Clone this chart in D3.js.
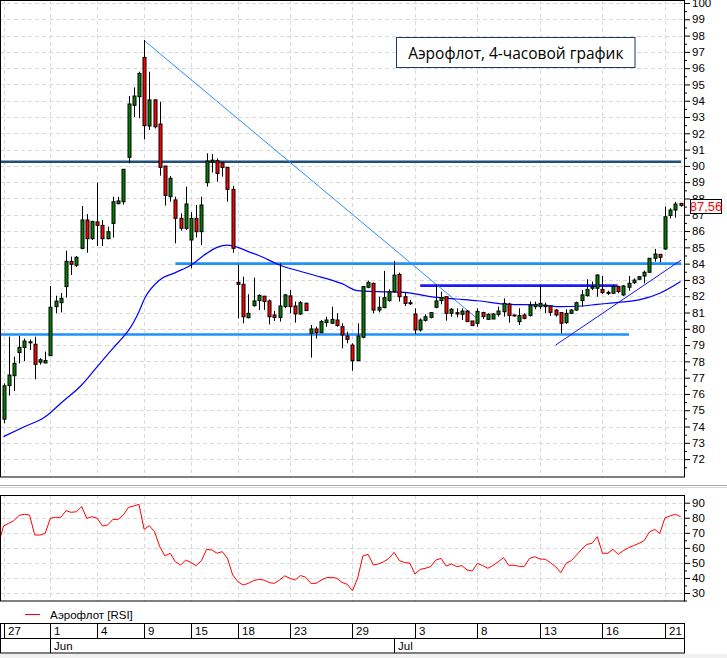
<!DOCTYPE html>
<html>
<head>
<meta charset="utf-8">
<script src="https://cdn.jsdelivr.net/npm/d3@7"></script>
<style>
  body { margin: 0; background: #fff; }
  svg { display: block; font-family: "Liberation Sans", Arial, sans-serif; }
  .grid line { stroke: #d9d9d9; stroke-dasharray: 4 3; }
  .axis text { font-size: 11.5px; fill: #000; }
  .axis line { stroke: #000; }
</style>
</head>
<body>
<svg id="chart" width="727" height="658"></svg>
<script>
// 4h candles, index 0 = first candle of May 27
const opens = [74.45,76.51,77.12,78.54,78.86,79.18,79.05,77.95,77.9,78.35,81.36,81.6,82.59,84.14,83.9,84.94,86.68,85.53,86.56,86.35,
  85.53,86.47,87.68,87.8,90.53,93.72,94.25,96.66,92.45,94.05,92.57,89.99,88.11,87.91,86.78,86.17,85.45,86.78,85.96,88.97,
  90.25,90.32,90.2,89.91,88.56,82.85,82.73,80.68,81.42,81.73,82.0,81.71,80.85,80.7,81.36,82.02,81.4,80.91,81.57,79.72,
  79.99,79.76,80.38,80.34,80.54,80.13,79.56,79.0,78.04,79.48,82.55,82.79,81.15,81.3,81.73,82.28,83.34,81.97,81.6,80.91,
  79.93,80.52,80.7,81.32,81.73,81.97,80.95,80.99,80.89,81.09,80.48,80.34,81.0,80.58,80.6,80.89,81.05,81.52,80.85,80.44,
  80.85,80.81,81.36,81.36,81.36,81.4,81.15,80.99,80.38,80.95,81.15,81.73,82.04,82.49,82.49,82.42,82.24,82.18,82.59,82.08,
  82.55,82.83,83.04,83.24,83.47,84.33,84.57,84.9,86.96,87.29,87.7];
const highs = [76.65,79.52,78.29,79.56,79.4,79.35,79.52,78.2,78.6,82.63,82.03,82.2,84.8,84.43,84.47,87.54,87.04,86.64,88.97,86.68,
  86.27,88.11,88.1,89.8,94.29,94.82,95.78,97.73,95.78,94.1,93.94,90.0,89.38,88.11,87.09,88.73,87.16,87.6,88.11,90.77,
  90.73,90.46,90.2,89.91,88.77,83.92,83.2,82.12,83.14,82.12,82.02,81.8,81.1,84.02,82.14,82.38,81.67,81.71,81.6,80.23,
  80.13,80.54,80.74,81.36,80.95,80.34,79.82,79.11,80.34,82.59,82.96,82.83,81.97,83.55,82.42,84.16,83.45,82.22,81.77,81.26,
  80.64,80.89,81.01,82.73,82.28,81.97,81.26,81.26,81.26,81.15,80.48,81.26,81.05,80.95,80.95,81.36,81.87,81.6,80.87,81.26,
  80.95,81.67,81.67,82.69,81.6,81.46,81.2,80.99,81.2,81.2,81.67,82.38,83.04,82.9,83.34,83.24,82.34,82.69,82.65,82.69,
  83.24,83.1,83.24,83.57,84.33,84.9,84.57,87.5,87.4,87.8,87.7];
const lows = [74.2,75.9,76.18,77.88,78.02,78.7,76.9,77.8,77.9,78.35,80.95,81.0,81.91,83.3,83.8,84.88,84.67,85.45,85.08,85.08,
  85.5,85.6,87.65,87.62,90.16,93.0,92.93,91.63,92.2,92.3,89.4,87.56,87.8,85.25,86.02,86.06,83.71,85.61,85.14,88.73,
  89.6,89.03,89.34,87.8,84.67,80.64,80.34,80.64,81.36,81.15,81.16,80.27,80.48,80.44,81.26,80.95,80.38,80.85,81.1,78.23,
  79.4,79.76,80.13,80.3,80.13,78.8,79.11,77.43,78.04,79.42,82.49,80.95,81.01,81.26,81.67,82.22,81.67,81.4,81.46,79.68,
  79.83,80.44,80.64,81.26,81.5,80.5,80.74,80.7,80.54,80.44,80.17,80.13,80.6,80.54,80.6,80.75,80.75,80.38,80.75,80.23,
  80.58,80.75,81.2,81.2,80.95,80.79,80.75,79.72,80.3,80.91,81.09,81.36,81.97,82.38,81.97,82.14,82.08,82.14,82.18,82.02,
  82.34,82.75,83.02,82.79,83.47,84.12,84.08,84.84,86.78,86.82,87.5];
const closes = [76.5,77.16,77.88,78.86,79.25,79.2,77.82,78.1,78.05,81.32,81.7,81.87,84.14,83.96,84.39,86.68,85.53,86.58,86.35,85.53,
  85.96,87.8,87.85,89.79,93.8,94.29,95.68,92.47,94.05,92.4,89.91,88.19,89.24,86.78,86.17,87.66,86.78,85.96,87.6,90.3,
  90.35,89.54,89.9,88.56,84.94,82.73,80.74,80.95,81.71,82.04,81.67,80.74,80.7,81.4,82.08,81.36,80.91,81.6,81.12,79.99,
  79.76,80.44,80.54,80.58,80.2,79.62,79.35,78.04,79.56,82.59,82.85,81.15,81.32,81.91,82.28,83.3,81.97,81.56,81.56,79.93,
  80.54,80.74,80.99,81.71,81.91,80.95,81.2,80.91,81.09,80.44,80.2,81.07,80.75,80.89,80.91,81.09,81.56,80.81,80.81,80.81,
  80.64,81.46,81.5,81.56,81.46,81.01,80.85,80.34,80.95,81.15,81.6,82.08,82.42,82.59,83.3,82.22,82.18,82.59,82.28,82.63,
  82.79,82.99,83.2,83.47,84.33,84.59,84.39,86.88,87.29,87.66,87.56];

// moving average, read as [candle index, price]
const maPoints = [[0,73.38],[4,73.99],[8,74.6],[9,74.85],[11,75.43],[15,76.55],[18,77.68],[21,78.8],[23,79.5],[24,79.9],
  [26,81.05],[27,81.8],[30,83.0],[33,83.45],[36,83.92],[39,84.63],[41,85.0],[43,85.14],[45,85.0],[47,84.74],[49,84.5],
  [53,83.92],[59,83.35],[65,82.77],[68,82.34],[72,82.28],[77,82.24],[82,81.97],[87,81.83],[91,81.72],[97,81.5],
  [103,81.46],[107,81.36],[111,81.4],[114,81.5],[118,81.62],[122,81.77],[126,82.18],[130,82.9]];

const rsiBefore = 62;
const rsi = [74.5,76.3,78.1,81.6,82.3,81.8,68.5,68.5,69.6,79.6,80.3,80.3,84.7,83.6,84.0,87.4,79.6,80.7,79.6,74.5,
  75.2,78.9,78.9,81.8,86.9,87.8,88.9,72.3,74.7,70.7,60.8,54.6,56.4,50.8,48.6,51.9,50.2,48.2,51.5,59.0,
  58.6,56.4,57.5,53.0,42.0,37.5,35.3,36.4,38.2,39.1,38.6,36.9,36.4,38.6,41.4,39.8,38.6,41.6,40.5,36.4,
  36.4,38.6,40.2,40.4,39.8,37.0,35.8,31.5,40.0,54.6,55.7,48.6,49.3,50.8,53.0,57.0,51.5,50.2,49.9,42.6,
  45.7,46.4,47.5,51.9,53.0,47.9,49.3,47.5,48.2,45.3,44.6,49.7,48.2,46.4,48.4,50.8,53.5,48.4,48.4,47.7,
  47.7,53.0,54.1,52.6,52.4,50.2,47.5,43.5,49.7,51.5,55.2,59.0,62.3,63.0,67.4,56.4,56.4,59.0,55.7,58.1,
  60.1,61.5,63.0,64.8,70.5,72.3,69.6,80.0,81.2,82.3,80.7];

// support / resistance levels: price, first and last candle index
const levelPrices = [90.25, 84.0, 79.65, 82.65];
const levelFrom = [-0.7, 33, -0.7, 80];
const levelTo = [130.1, 130.1, 120.1, 117.9];

// trend lines: [index, price] start and end
const trendFrom = [[27, 97.7], [106, 79.0]];
const trendTo = [[90.9, 80.64], [130.1, 84.22]];

const dayLabels = ["27","1","4","9","15","18","23","29","3","8","13","16","21"];
const dayIndex = [0,9,18,27,36,45,55,67,79,91,103,115,127];
const monthLabels = ["Jun","Jul"];
const monthIndex = [9,75];

const priceTicks = d3.range(72, 101);
const priceMinorTicks = d3.range(71.5, 100, 1);
const rsiTicks = [30,40,50,60,70,80,90];
const rsiMinorTicks = [25,35,45,55,65,75,85];

const lastPriceLabel = "87,56";
const title = "Аэрофлот, 4-часовой график";
const legendLabel = "Аэрофлот [RSI]";

const svg = d3.select("#chart");
const panelRight = 684;

const x = d3.scaleLinear().domain([0, 127]).range([3.5, 665]);
const yPrice = d3.scaleLinear().domain([71, 100]).range([475.4, 3]);
const yRsi = d3.scaleLinear().domain([30, 90]).range([593, 502.7]);
const px = (i) => Math.round(x(i)) + 0.5;

const defs = svg.append("defs");
defs.append("clipPath").attr("id", "clipMain")
  .append("rect").attr("x", 1).attr("y", 1).attr("width", panelRight - 1).attr("height", 476);
defs.append("clipPath").attr("id", "clipRsi")
  .append("rect").attr("x", 1).attr("y", 496).attr("width", panelRight - 1).attr("height", 105);

svg.append("rect").attr("width", 727).attr("height", 658).attr("fill", "#fff");

// ---------- main panel ----------
const gMainGrid = svg.append("g").attr("class", "grid").attr("clip-path", "url(#clipMain)");
gMainGrid.selectAll("line.h").data(priceTicks).join("line").attr("class", "h")
  .attr("x1", 0).attr("x2", panelRight)
  .attr("y1", (d) => Math.round(yPrice(d)) + 0.5).attr("y2", (d) => Math.round(yPrice(d)) + 0.5);
gMainGrid.selectAll("line.v").data(dayIndex).join("line").attr("class", "v")
  .attr("x1", (d) => px(d)).attr("x2", (d) => px(d))
  .attr("y1", 0).attr("y2", 477);

const gMain = svg.append("g").attr("clip-path", "url(#clipMain)");

const levelColors = ["#1f4e79", "#1e8fff", "#1e8fff", "#1a1aff"];
gMain.selectAll("line.level").data(levelPrices).join("line").attr("class", "level")
  .attr("x1", (d, i) => x(levelFrom[i])).attr("x2", (d, i) => x(levelTo[i]))
  .attr("y1", (d) => yPrice(d)).attr("y2", (d) => yPrice(d))
  .attr("stroke", (d, i) => levelColors[i]).attr("stroke-width", 2.6);

const trendColors = ["#2b8cff", "#1010ff"];
gMain.selectAll("line.trend").data(trendFrom).join("line").attr("class", "trend")
  .attr("x1", (d) => x(d[0])).attr("y1", (d) => yPrice(d[1]))
  .attr("x2", (d, i) => x(trendTo[i][0])).attr("y2", (d, i) => yPrice(trendTo[i][1]))
  .attr("stroke", (d, i) => trendColors[i]).attr("stroke-width", 1);

const maLine = d3.line().x((d) => x(d[0])).y((d) => yPrice(d[1])).curve(d3.curveMonotoneX);
gMain.append("path").datum(maPoints).attr("d", maLine)
  .attr("fill", "none").attr("stroke", "#0000ff").attr("stroke-width", 1.2);

const candles = gMain.selectAll("g.candle").data(opens).join("g").attr("class", "candle");
candles.append("line")
  .attr("x1", (d, i) => px(i)).attr("x2", (d, i) => px(i))
  .attr("y1", (d, i) => yPrice(highs[i])).attr("y2", (d, i) => yPrice(lows[i]))
  .attr("stroke", "#000").attr("stroke-width", 1);
candles.append("rect")
  .attr("x", (d, i) => Math.round(x(i)) - 1)
  .attr("width", 3)
  .attr("y", (d, i) => yPrice(Math.max(opens[i], closes[i])))
  .attr("height", (d, i) => Math.max(1, Math.abs(yPrice(opens[i]) - yPrice(closes[i]))))
  .attr("fill", (d, i) => closes[i] >= opens[i] ? "#008000" : "#ff0000")
  .attr("stroke", "#000").attr("stroke-width", 1);

svg.append("rect").attr("x", 0.5).attr("y", 0.5).attr("width", panelRight).attr("height", 476.5)
  .attr("fill", "none").attr("stroke", "#000");

// title box
const titleG = svg.append("g");
titleG.append("rect").attr("x", 396.5).attr("y", 37.5).attr("width", 238.5).attr("height", 30)
  .attr("fill", "#fff").attr("stroke", "#1f3864").attr("stroke-width", 1);
titleG.append("text").attr("x", 515.8).attr("y", 58.5).attr("text-anchor", "middle")
  .style("font-family", "'Open Sans', 'Noto Sans', sans-serif").style("font-size", "15.5px")
  .attr("fill", "#000").text(title);

// price axis
svg.append("g").attr("class", "axis").attr("transform", `translate(${panelRight},0)`)
  .call(d3.axisRight(yPrice).tickValues(priceMinorTicks).tickSize(3).tickFormat(""))
  .call((g) => g.select(".domain").remove());
svg.append("g").attr("class", "axis").attr("transform", `translate(${panelRight},0)`)
  .call(d3.axisRight(yPrice).tickValues(priceTicks).tickSize(6).tickPadding(2).tickFormat(d3.format("d")))
  .call((g) => g.select(".domain").remove());

// last price label
const lastY = yPrice(closes[closes.length - 1]);
svg.append("rect").attr("x", 690.5).attr("y", Math.round(lastY) - 6.5).attr("width", 31).attr("height", 14)
  .attr("fill", "#fff").attr("stroke", "#000");
svg.append("text").attr("x", 706).attr("y", Math.round(lastY) + 5).attr("text-anchor", "middle")
  .style("font-size", "13px").attr("fill", "#ff0000").text(lastPriceLabel);

// separator between panels
svg.append("line").attr("x1", 0).attr("x2", 727).attr("y1", 485.5).attr("y2", 485.5).attr("stroke", "#a8a8a8");
svg.append("line").attr("x1", 0).attr("x2", 727).attr("y1", 487.5).attr("y2", 487.5).attr("stroke", "#d8d8d8");

// ---------- RSI panel ----------
const gRsiGrid = svg.append("g").attr("class", "grid").attr("clip-path", "url(#clipRsi)");
gRsiGrid.selectAll("line.h").data(rsiTicks).join("line").attr("class", "h")
  .attr("x1", 0).attr("x2", panelRight)
  .attr("y1", (d) => Math.round(yRsi(d)) + 0.5).attr("y2", (d) => Math.round(yRsi(d)) + 0.5);
gRsiGrid.selectAll("line.v").data(dayIndex).join("line").attr("class", "v")
  .attr("x1", (d) => px(d)).attr("x2", (d) => px(d))
  .attr("y1", 495).attr("y2", 601);

const rsiSeries = [[-1, rsiBefore]].concat(rsi.map((v, i) => [i, v]));
svg.append("g").attr("clip-path", "url(#clipRsi)").append("path").datum(rsiSeries)
  .attr("d", d3.line().x((d) => x(d[0])).y((d) => yRsi(d[1])))
  .attr("fill", "none").attr("stroke", "#ff0000").attr("stroke-width", 1);

svg.append("rect").attr("x", 0.5).attr("y", 495.5).attr("width", panelRight).attr("height", 105.5)
  .attr("fill", "none").attr("stroke", "#000");

svg.append("g").attr("class", "axis").attr("transform", `translate(${panelRight},0)`)
  .call(d3.axisRight(yRsi).tickValues(rsiMinorTicks).tickSize(3).tickFormat(""))
  .call((g) => g.select(".domain").remove());
svg.append("g").attr("class", "axis").attr("transform", `translate(${panelRight},0)`)
  .call(d3.axisRight(yRsi).tickValues(rsiTicks).tickSize(6).tickPadding(2).tickFormat(d3.format("d")))
  .call((g) => g.select(".domain").remove());

// legend
svg.append("line").attr("x1", 25).attr("x2", 40).attr("y1", 614.5).attr("y2", 614.5).attr("stroke", "#ff0000");
svg.append("text").attr("x", 50).attr("y", 618.5).style("font-size", "11.5px").attr("fill", "#000").text(legendLabel);

// ---------- date axis ----------
const gDate = svg.append("g");
gDate.append("rect").attr("x", 0.5).attr("y", 623.5).attr("width", panelRight).attr("height", 29.5)
  .attr("fill", "#fff").attr("stroke", "#000");
gDate.append("line").attr("x1", 0).attr("x2", panelRight + 0.5).attr("y1", 638.5).attr("y2", 638.5).attr("stroke", "#000");
gDate.selectAll("line.day").data(dayIndex).join("line").attr("class", "day")
  .attr("x1", (d) => px(d)).attr("x2", (d) => px(d)).attr("y1", 623).attr("y2", 638.5).attr("stroke", "#000");
gDate.selectAll("text.day").data(dayLabels).join("text").attr("class", "day")
  .attr("x", (d, i) => px(dayIndex[i]) + 3.5).attr("y", 635)
  .style("font-size", "11.5px").attr("fill", "#000").text((d) => d);
gDate.selectAll("line.month").data(monthIndex).join("line").attr("class", "month")
  .attr("x1", (d) => px(d)).attr("x2", (d) => px(d)).attr("y1", 638.5).attr("y2", 653).attr("stroke", "#000");
gDate.selectAll("text.month").data(monthLabels).join("text").attr("class", "month")
  .attr("x", (d, i) => px(monthIndex[i]) + 3.5).attr("y", 650)
  .style("font-size", "11.5px").attr("fill", "#000").text((d) => d);

svg.append("rect").attr("x", 0).attr("y", 654).attr("width", 727).attr("height", 4).attr("fill", "#f0f0f0");
</script>
</body>
</html>
